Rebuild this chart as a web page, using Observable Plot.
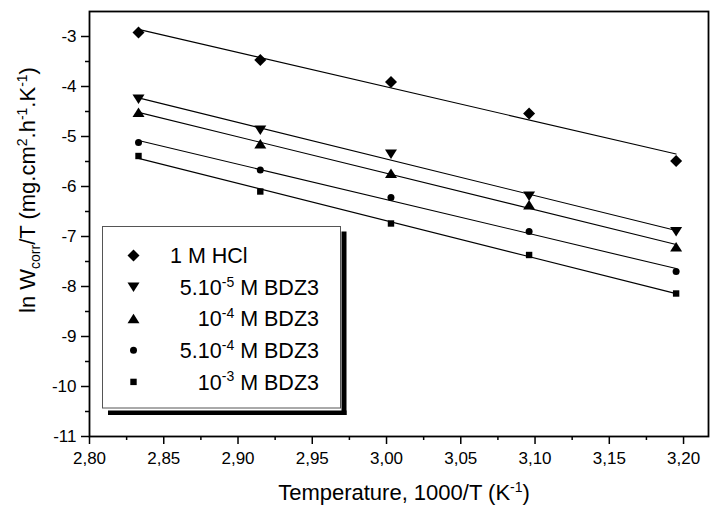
<!DOCTYPE html>
<html><head><meta charset="utf-8">
<script src="https://cdn.jsdelivr.net/npm/d3@7"></script>
<script src="https://cdn.jsdelivr.net/npm/@observablehq/plot@0.6"></script>
<style>
body{margin:0;background:#fff;}
#wrap{position:relative;width:710px;height:506px;}
svg{display:block;}
</style></head><body><div id="wrap"></div>
<script>
// ---- data ----
const invT = [2.833, 2.915, 3.003, 3.096, 3.195];           // 1000/T (K^-1)
const hcl    = [-2.92, -3.47, -3.91, -4.54, -5.49];          // 1 M HCl
const bdz5e5 = [-4.25, -4.87, -5.35, -6.19, -6.90];          // 5.10^-5 M BDZ3
const bdz1e4 = [-4.52, -5.15, -5.74, -6.37, -7.21];          // 10^-4 M BDZ3
const bdz5e4 = [-5.12, -5.67, -6.22, -6.90, -7.70];          // 5.10^-4 M BDZ3
const bdz1e3 = [-5.39, -6.10, -6.74, -7.37, -8.14];          // 10^-3 M BDZ3
const xTicks = [2.80, 2.85, 2.90, 2.95, 3.00, 3.05, 3.10, 3.15, 3.20];
const xMinor = [2.825, 2.875, 2.925, 2.975, 3.025, 3.075, 3.125, 3.175];
const yTicks = [-11, -10, -9, -8, -7, -6, -5, -4, -3];
const yMinor = [-10.5, -9.5, -8.5, -7.5, -6.5, -5.5, -4.5, -3.5];
const seriesNames = ["1 M HCl", "5.10^-5 M BDZ3", "10^-4 M BDZ3", "5.10^-4 M BDZ3", "10^-3 M BDZ3"];

// ---- symbols ----
const sym = {
  diamond: {draw(c){ const s = 6; c.moveTo(0,-s); c.lineTo(s,0); c.lineTo(0,s); c.lineTo(-s,0); c.closePath(); }},
  down:    {draw(c){ c.moveTo(-6,-4.5); c.lineTo(6,-4.5); c.lineTo(0,5); c.closePath(); }},
  up:      {draw(c){ c.moveTo(-6,4.5); c.lineTo(6,4.5); c.lineTo(0,-5); c.closePath(); }},
  circle:  {draw(c){ c.moveTo(3.5,0); c.arc(0,0,3.5,0,2*Math.PI); c.closePath(); }},
  square:  {draw(c){ c.rect(-3.2,-3.2,6.4,6.4); }}
};
const series = [
  {vals: hcl,    s: sym.diamond},
  {vals: bdz5e5, s: sym.down},
  {vals: bdz1e4, s: sym.up},
  {vals: bdz5e4, s: sym.circle},
  {vals: bdz1e3, s: sym.square}
];
const rowsOf = vals => invT.map((x, i) => ({x, y: vals[i]}));

const font = "'Liberation Sans', Arial, sans-serif";
const fmtX = d => d.toFixed(2).replace(".", ",");

const marks = [];
series.forEach(ser => {
  const rows = rowsOf(ser.vals);
  marks.push(Plot.linearRegressionY(rows, {x: "x", y: "y", ci: 0, stroke: "black", strokeWidth: 1.1}));
  marks.push(Plot.dot(rows, {x: "x", y: "y", symbol: ser.s, fill: "black", r: 3}));
});
marks.push(
  Plot.axisX(xTicks, {tickSize: 8, tickPadding: 7, tickFormat: fmtX, label: null, strokeWidth: 1.5, fontSize: 17}),
  Plot.axisX(xMinor, {tickSize: 4, tickFormat: () => "", label: null, strokeWidth: 1.5}),
  Plot.axisY(yTicks, {tickSize: 8, tickPadding: 5, tickFormat: d => String(d), label: null, strokeWidth: 1.5, fontSize: 17}),
  Plot.axisY(yMinor, {tickSize: 4, tickFormat: () => "", label: null, strokeWidth: 1.5}),
  Plot.frame({stroke: "black", strokeWidth: 1.8})
);

const chart = Plot.plot({
  width: 710, height: 506,
  marginLeft: 89, marginRight: 2, marginTop: 11, marginBottom: 70,
  x: {domain: [2.8, 3.2168]},
  y: {domain: [-11, -2.5]},
  style: {fontFamily: font, fontSize: "17px", color: "black", background: "white"},
  marks
});
document.getElementById("wrap").appendChild(chart);

const svg = d3.select(chart);

// helper for text with super/subscripts: parts = [[text, shift]] shift: 0 normal, 1 sup, -1 sub
function richText(sel, parts, size, supSize) {
  let cur = 0;
  parts.forEach(([t, sh]) => {
    const target = sh === 1 ? -size * 0.38 : sh === -1 ? size * 0.22 : 0;
    sel.append("tspan").attr("dy", target - cur).attr("font-size", sh ? supSize : size).text(t);
    cur = target;
  });
}

// axis titles
const xt = svg.append("text").attr("x", 404).attr("y", 500).attr("text-anchor", "middle")
  .attr("font-family", font).attr("fill", "black");
richText(xt, [["Temperature, 1000/T (K", 0], ["-1", 1], [")", 0]], 22, 14);

const yt = svg.append("text").attr("transform", "translate(35,190) rotate(-90)").attr("text-anchor", "middle")
  .attr("font-family", font).attr("fill", "black");
richText(yt, [["ln W", 0], ["corr", -1], ["/T (mg.cm", 0], ["2", 1], [".h", 0], ["-1", 1], [".K", 0], ["-1", 1], [")", 0]], 22, 14);

// legend
const lg = svg.append("g");
lg.append("rect").attr("x", 341.5).attr("y", 231.5).attr("width", 5).attr("height", 183.5).attr("fill", "black");
lg.append("rect").attr("x", 108).attr("y", 410.5).attr("width", 238.5).attr("height", 4.5).attr("fill", "black");
lg.append("rect").attr("x", 102.5).attr("y", 226.5).attr("width", 238).attr("height", 181.5)
  .attr("fill", "white").attr("stroke", "#555").attr("stroke-width", 1);
const legendParts = [
  [["1 M HCl", 0]],
  [["5.10", 0], ["-5", 1], [" M BDZ3", 0]],
  [["10", 0], ["-4", 1], [" M BDZ3", 0]],
  [["5.10", 0], ["-4", 1], [" M BDZ3", 0]],
  [["10", 0], ["-3", 1], [" M BDZ3", 0]]
];
series.forEach((ser, i) => {
  const cy = 255.5 + i * 31.6;
  const p = d3.path(); ser.s.draw(p);
  lg.append("path").attr("d", p.toString()).attr("transform", `translate(133.5,${cy})`).attr("fill", "black");
  const t = lg.append("text").attr("y", cy + 7.7).attr("font-family", font).attr("fill", "black")
    .attr("x", i === 0 ? 170 : 319).attr("text-anchor", i === 0 ? "start" : "end");
  richText(t, legendParts[i], 21.5, 14);
});
</script>
</body></html>
